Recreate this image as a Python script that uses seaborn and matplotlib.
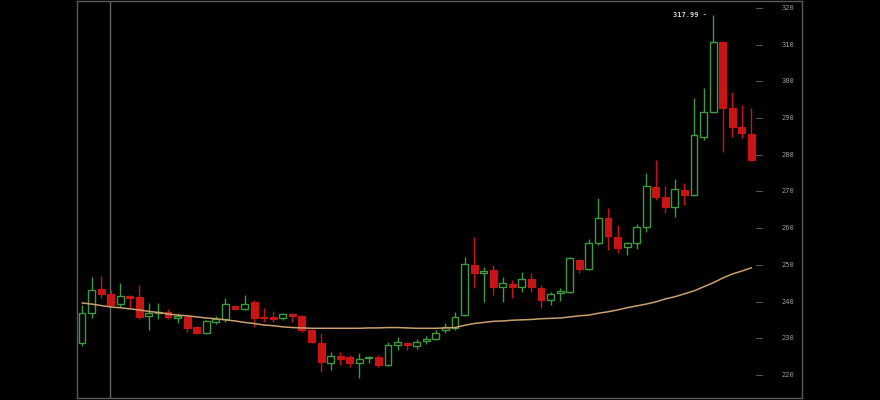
import numpy as np
import pandas as pd
import seaborn as sns
import matplotlib
matplotlib.use("Agg")
import matplotlib.pyplot as plt
import matplotlib.transforms as mtransforms

# OHLC values, one per candle
opens = [228.7, 236.9, 243.4, 242.1, 239.3, 241.4, 241.3, 236.1, 236.9, 237.2,
         235.5, 235.8, 233.1, 231.4, 234.4, 235.3, 238.8, 238.0, 239.9, 235.8,
         235.8, 235.5, 236.6, 236.1, 232.3, 228.7, 223.3, 225.2, 224.9, 223.3,
         224.5, 224.9, 222.7, 228.2, 228.7, 227.9, 229.3, 229.8, 232.3, 232.8,
         236.3, 250.0, 247.8, 248.6, 244.0, 244.8, 244.0, 246.2, 243.7, 240.4,
         242.3, 242.6, 251.3, 248.9, 256.0, 262.8, 257.6, 254.9, 256.0, 260.3,
         271.2, 268.5, 265.8, 270.4, 269.0, 284.9, 291.7, 310.7, 292.8, 287.6,
         285.7]
highs = [239.0, 246.7, 247.0, 243.2, 245.0, 241.8, 244.5, 239.6, 239.6, 238.0,
         236.9, 236.3, 233.4, 235.0, 236.1, 241.0, 239.1, 241.8, 240.4, 238.3,
         237.4, 236.9, 236.9, 236.3, 232.5, 231.4, 226.3, 226.3, 225.4, 226.0,
         225.2, 225.4, 229.0, 230.4, 229.0, 229.8, 230.6, 232.3, 234.2, 237.2,
         252.2, 257.6, 249.4, 250.0, 246.7, 245.9, 248.1, 247.8, 244.5, 242.6,
         243.7, 252.2, 251.6, 257.0, 268.2, 265.5, 260.9, 256.2, 261.1, 275.0,
         278.6, 271.5, 273.4, 272.3, 295.5, 298.2, 317.99, 310.9, 297.1, 293.6,
         292.8]
lows = [227.9, 235.5, 241.0, 238.8, 238.5, 238.3, 235.3, 232.3, 235.3, 235.3,
        234.2, 231.7, 231.2, 231.2, 233.9, 234.4, 237.7, 237.7, 233.1, 234.4,
        234.4, 235.0, 234.4, 231.7, 228.7, 220.8, 221.4, 222.7, 222.2, 219.2,
        223.3, 222.2, 222.5, 226.8, 226.8, 227.1, 228.4, 229.5, 231.4, 232.3,
        236.1, 243.7, 239.9, 241.8, 239.9, 241.0, 242.6, 242.6, 238.3, 239.1,
        240.2, 242.3, 247.8, 248.6, 255.4, 254.0, 253.2, 252.7, 254.3, 259.0,
        267.7, 264.1, 263.1, 266.3, 268.8, 284.0, 291.4, 280.8, 284.9, 284.6,
        278.3]
closes = [236.9, 243.2, 242.1, 239.1, 241.5, 241.0, 235.8, 236.9, 237.2, 235.8,
          236.1, 232.8, 231.4, 234.7, 235.3, 239.3, 238.0, 239.3, 235.5, 235.4,
          235.3, 236.6, 236.1, 232.3, 229.0, 223.5, 225.2, 224.4, 223.3, 224.4,
          224.9, 222.7, 228.2, 229.0, 228.2, 229.0, 229.8, 231.4, 233.1, 235.8,
          250.2, 247.8, 248.3, 244.0, 245.0, 244.0, 246.2, 244.0, 240.4, 242.1,
          242.9, 251.9, 248.9, 256.0, 262.8, 257.9, 254.6, 256.0, 260.3, 271.5,
          268.5, 265.8, 270.7, 269.0, 285.4, 291.7, 310.7, 292.8, 287.6, 285.9,
          278.6]

# moving average line
ma = [239.6, 239.3, 238.9, 238.5, 238.3, 238.0, 237.7, 237.3, 237.0, 236.6,
      236.3, 236.1, 235.8, 235.5, 235.3, 235.0, 234.7, 234.3, 234.0, 233.6,
      233.4, 233.1, 232.9, 232.8, 232.7, 232.7, 232.7, 232.7, 232.7, 232.7,
      232.8, 232.8, 232.9, 232.9, 232.8, 232.7, 232.7, 232.7, 232.8, 232.9,
      233.5, 234.0, 234.3, 234.6, 234.7, 234.9, 235.0, 235.1, 235.3, 235.4,
      235.5, 235.8, 236.1, 236.3, 236.8, 237.2, 237.7, 238.3, 238.8, 239.3,
      239.9, 240.7, 241.3, 242.1, 242.9, 244.0, 245.1, 246.4, 247.5, 248.3,
      249.2]

price_ticks = [220, 230, 240, 250, 260, 270, 280, 290, 300, 310, 320]
peak_label = "317.99 -"

df = pd.DataFrame({"open": opens, "high": highs, "low": lows, "close": closes, "ma": ma})
df["idx"] = np.arange(len(df))
up = df[df["close"] >= df["open"]]
down = df[df["close"] < df["open"]]

GREEN = "#3f9a3f"
RED = "#c81414"
FRAME = "#5a5a5a"

sns.set_theme(style="dark")
plt.rcParams["font.family"] = ["DejaVu Sans Mono", "DejaVu Sans"]

fig = plt.figure(figsize=(8.8, 4.0), dpi=100, facecolor="black")
ax = fig.add_axes([0.0875, 0.005, 0.824, 0.9925])
ax.set_facecolor("black")

# crosshair line
ax.axvline(2.93, color="#666666", lw=1, zorder=1)

# wicks
ax.vlines(up["idx"], up["low"], up["high"], color=GREEN, lw=1, zorder=2)
ax.vlines(down["idx"], down["low"], down["high"], color=RED, lw=1, zorder=2)

# bodies
ax.bar(up["idx"], up["close"] - up["open"], bottom=up["open"], width=0.72,
       facecolor="black", edgecolor=GREEN, linewidth=1, zorder=3)
ax.bar(down["idx"], down["open"] - down["close"], bottom=down["close"], width=0.72,
       facecolor=RED, edgecolor=RED, linewidth=0.8, zorder=3)

# moving average
sns.lineplot(data=df, x="idx", y="ma", ax=ax, color="#c9a070", lw=1.1, zorder=4)

ax.set_xlim(-0.52, 75.3)
ax.set_ylim(213.7, 321.9)
ax.set_xticks([])
ax.set_yticks([])
ax.set_xlabel("")
ax.set_ylabel("")
for s in ax.spines.values():
    s.set_visible(True)
    s.set_color(FRAME)
    s.set_linewidth(1)

# price scale drawn inside the frame
trans = mtransforms.blended_transform_factory(ax.transAxes, ax.transData)
for p in price_ticks:
    ax.plot([0.936, 0.944], [p, p], color="#555555", lw=0.8, transform=trans,
            clip_on=False)
    ax.text(0.971, p, str(p), color="#9a9a9a", fontsize=5, va="center",
            ha="left", transform=trans)

# peak annotation
peak_i = int(np.argmax(highs))
ax.text(peak_i - 0.6, highs[peak_i], peak_label, color="#d0d0d0", fontsize=5,
        ha="right", va="center", fontweight="bold")

fig.savefig("out.png", dpi=100, facecolor="black")
